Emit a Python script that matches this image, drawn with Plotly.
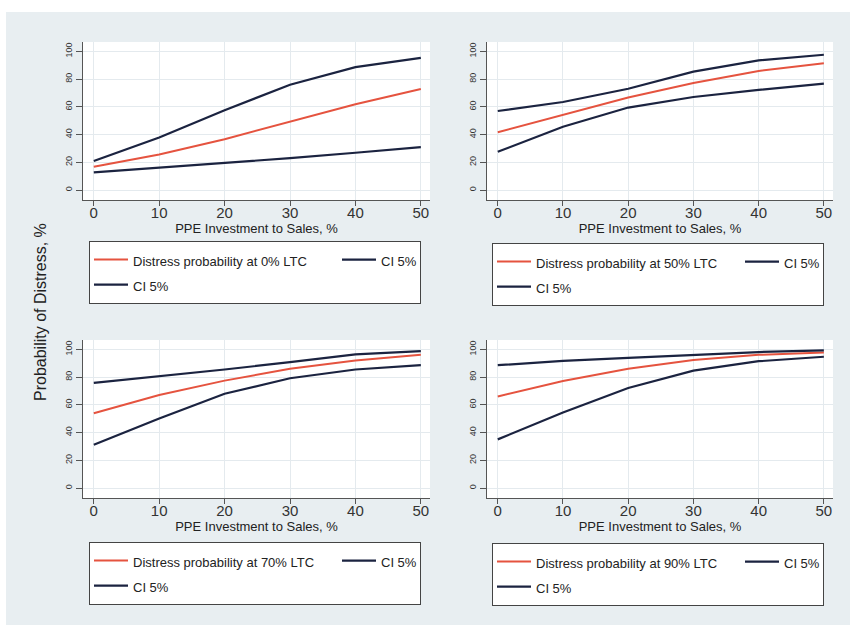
import plotly.graph_objects as go

# ---------------- data ----------------
x_vals = [0, 10, 20, 30, 40, 50]
ltc_labels = ["0%", "50%", "70%", "90%"]

mean_0 = [16.8, 25.7, 36.7, 49.2, 61.9, 72.9]
upper_0 = [20.9, 37.9, 57.6, 76.0, 88.7, 95.4]
lower_0 = [12.7, 16.1, 19.7, 23.0, 26.9, 30.9]

mean_50 = [41.7, 54.2, 66.7, 77.2, 85.9, 91.4]
upper_50 = [57.0, 63.5, 73.1, 85.4, 93.5, 97.6]
lower_50 = [27.6, 45.6, 59.5, 67.1, 72.2, 76.7]

mean_70 = [54.0, 67.1, 77.5, 86.0, 92.0, 96.1]
upper_70 = [75.8, 80.4, 85.5, 90.8, 96.4, 98.8]
lower_70 = [31.2, 50.1, 68.0, 79.2, 85.5, 88.6]

mean_90 = [66.1, 77.2, 86.0, 92.3, 96.1, 97.8]
upper_90 = [88.6, 91.8, 93.9, 96.1, 98.1, 99.3]
lower_90 = [35.1, 54.5, 72.2, 84.7, 91.5, 94.7]

x_ticks = [0, 10, 20, 30, 40, 50]
y_ticks = [0, 20, 40, 60, 80, 100]
x_title = "PPE Investment to Sales, %"
y_title = "Probability of Distress, %"
ci_name = "CI 5%"

panels = [
    (ltc_labels[0], mean_0, upper_0, lower_0),
    (ltc_labels[1], mean_50, upper_50, lower_50),
    (ltc_labels[2], mean_70, upper_70, lower_70),
    (ltc_labels[3], mean_90, upper_90, lower_90),
]

# ---------------- styling ----------------
W, H = 850, 625
FONT = "Liberation Sans, Arial, sans-serif"
RED = "#e5533f"
NAVY = "#1b2340"
BG = "#e8eef1"
GRID = "#e4eaee"
AXIS = "#555555"

# pixel boxes of the plot areas: (left, right, top, bottom)
boxes = [(83, 430, 42, 200), (487, 833, 42, 200),
         (83, 430, 340, 498), (487, 833, 340, 498)]
legend_pos = [(89, 241), (492, 243), (89, 542), (492, 543)]


def span(t):
    return '<span style="font-size:13px">' + t + '</span>'


fig = go.Figure()
layout = dict(
    width=W, height=H,
    margin=dict(l=0, r=0, t=0, b=0, autoexpand=False),
    paper_bgcolor=BG, plot_bgcolor="white",
    font=dict(family=FONT, color="#222222"),
    showlegend=True,
    annotations=[], shapes=[],
)

for i, (lab, mean, up, lo) in enumerate(panels):
    n = "" if i == 0 else str(i + 1)
    xa, ya = "x" + n, "y" + n
    leg = "legend" + n
    fig.add_trace(go.Scatter(x=x_vals, y=mean, mode="lines", xaxis=xa, yaxis=ya,
                             line=dict(color=RED, width=2),
                             name=span("Distress probability at " + lab + " LTC"),
                             legend=leg, legendgroup="a" + n, legendwidth=199,
                             hoverinfo="skip"))
    fig.add_trace(go.Scatter(x=x_vals, y=up, mode="lines", xaxis=xa, yaxis=ya,
                             line=dict(color=NAVY, width=2.2),
                             name=span(ci_name), legend=leg, legendgroup="b" + n,
                             legendwidth=34, hoverinfo="skip"))
    fig.add_trace(go.Scatter(x=x_vals, y=lo, mode="lines", xaxis=xa, yaxis=ya,
                             line=dict(color=NAVY, width=2.2),
                             name=span(ci_name), legend=leg, legendgroup="a" + n,
                             hoverinfo="skip"))

    l, r, t, b = boxes[i]
    layout["xaxis" + n] = dict(
        domain=[l / W, r / W], anchor=ya, range=[-1.65, 51.4], automargin=False,
        tickvals=x_ticks, ticks="outside", ticklen=5, tickcolor=AXIS,
        ticklabelstandoff=-6,
        showline=True, linecolor=AXIS, linewidth=1.3, zeroline=False,
        showgrid=True, gridcolor=GRID, gridwidth=1,
        tickfont=dict(size=15, color="#333333"),
        title=dict(text=x_title, font=dict(size=13, color="#222222"), standoff=2),
        fixedrange=True,
    )
    layout["yaxis" + n] = dict(
        domain=[1 - b / H, 1 - t / H], anchor=xa, range=[-7.2, 106.8], automargin=False,
        tickvals=y_ticks, ticks="outside", ticklen=6, tickcolor=AXIS,
        showline=True, linecolor=AXIS, linewidth=1.3, zeroline=False,
        showgrid=True, gridcolor=GRID, gridwidth=1,
        tickangle=-90, tickfont=dict(size=9, color="#333333"),
        fixedrange=True,
    )
    lx, ly = legend_pos[i]
    layout[leg] = dict(
        x=lx / W, y=1 - ly / H, xanchor="left", yanchor="top",
        orientation="h", traceorder="grouped", itemwidth=34,
        bgcolor="white", bordercolor="#444444", borderwidth=1,
        font=dict(family=FONT, size=17, color="#222222"),
        itemclick=False, itemdoubleclick=False,
    )

layout["annotations"].append(dict(
    text=y_title, x=40 / W, y=1 - 312 / H, xref="paper", yref="paper",
    xanchor="center", yanchor="middle", textangle=-90, showarrow=False,
    font=dict(size=16, color="#222222")))

# white outer border strips (top and left)
layout["shapes"].append(dict(type="rect", xref="paper", yref="paper",
                             x0=0, x1=1, y0=1 - 12 / H, y1=1,
                             fillcolor="white", line=dict(width=0), layer="below"))
layout["shapes"].append(dict(type="rect", xref="paper", yref="paper",
                             x0=0, x1=6 / W, y0=0, y1=1,
                             fillcolor="white", line=dict(width=0), layer="below"))

fig.update_layout(**layout)
fig.write_html("out.html", config={"displayModeBar": False},
               post_script="document.body.style.margin='0';document.body.style.padding='0';")
